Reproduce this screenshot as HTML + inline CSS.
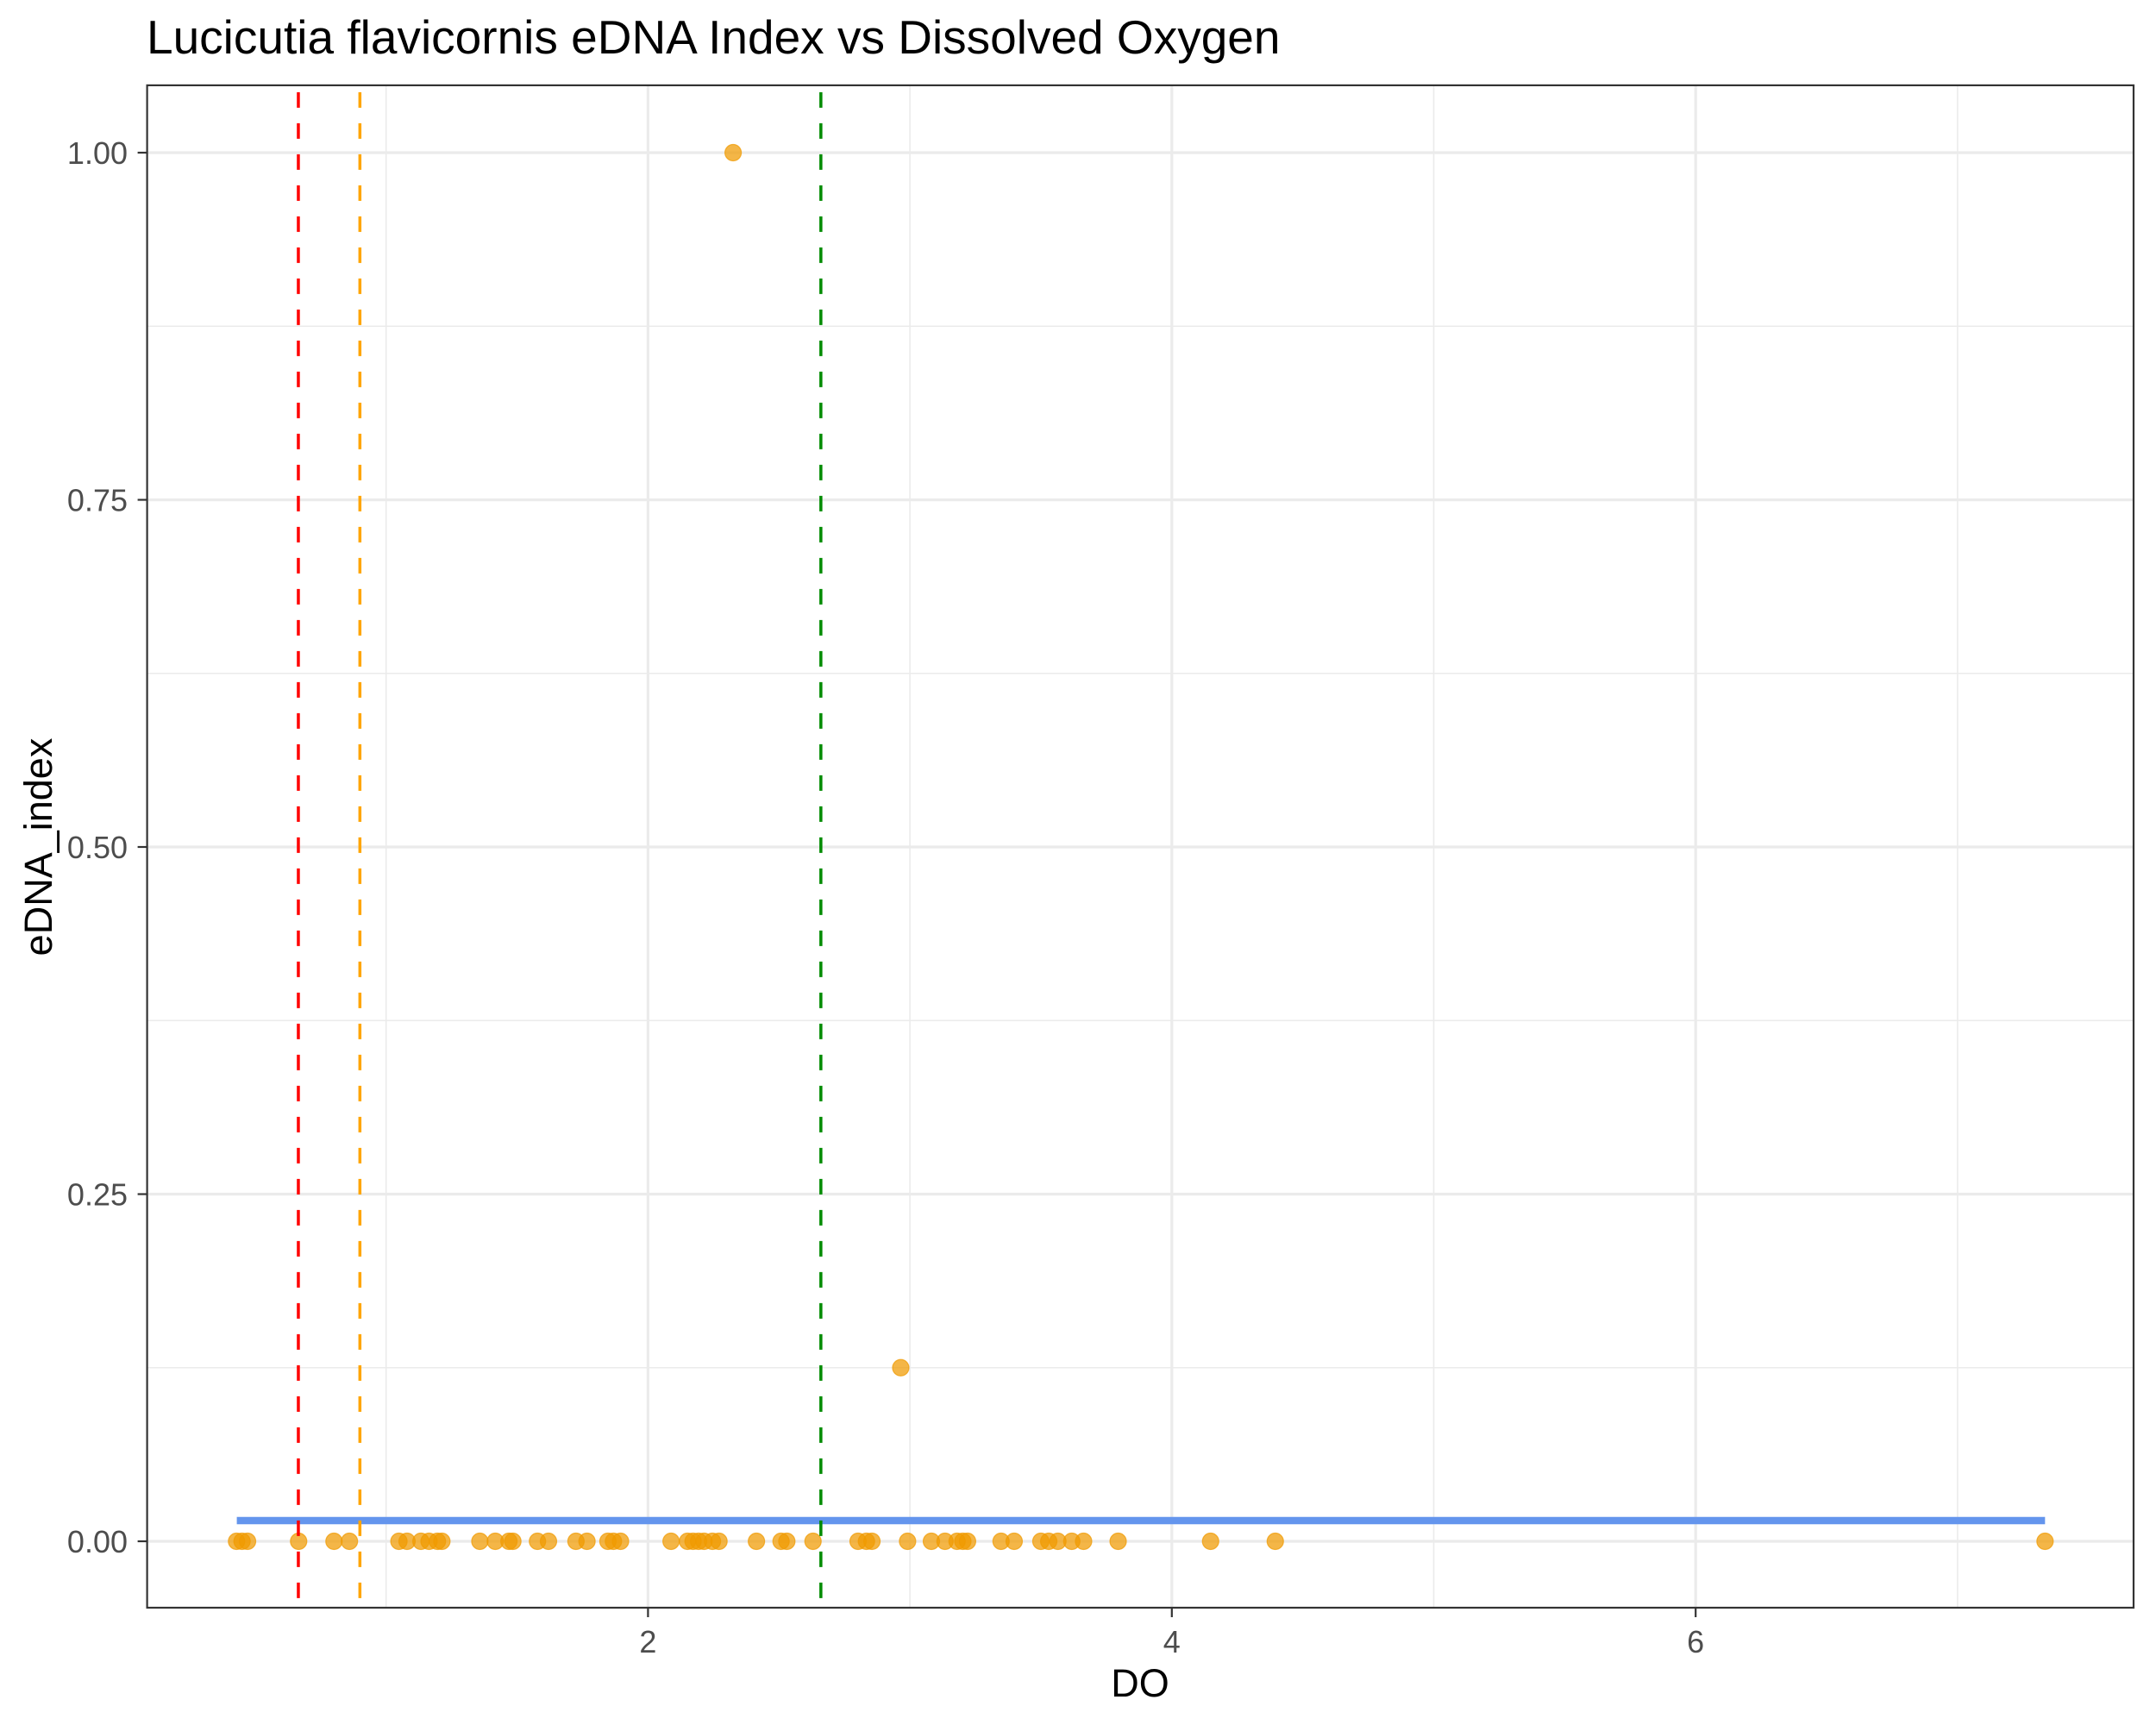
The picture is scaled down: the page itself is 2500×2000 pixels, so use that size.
<!DOCTYPE html>
<html><head><meta charset="utf-8"><style>
html,body{margin:0;padding:0;background:#fff;}
svg{display:block;font-family:"Liberation Sans",Arial,sans-serif;}
</style></head><body>
<svg id="chart" width="2500" height="2000" viewBox="0 0 2500 2000">
<text x="170" y="62" font-size="55" fill="#000">Lucicutia flavicornis eDNA Index vs Dissolved Oxygen</text>
<g id="grid"></g>
<g id="marks"></g>
<rect x="170.6" y="98.9" width="2303.4" height="1765.1" fill="none" stroke="#333" stroke-width="2.2"/>
<g id="axes"></g>
<text x="1322" y="1967" font-size="45" text-anchor="middle" fill="#000">DO</text>
<text transform="translate(60,982) rotate(-90)" font-size="45" text-anchor="middle" fill="#000">eDNA_index</text>
</svg>
<script>
const doValues = [0.429,0.450,0.471,0.666,0.801,0.860,1.049,1.080,1.133,1.164,1.196,1.213,1.358,1.417,1.469,1.484,1.578,1.620,1.725,1.767,1.847,1.868,1.895,2.088,2.151,2.172,2.193,2.214,2.246,2.271,2.414,2.508,2.530,2.630,2.802,2.834,2.855,2.991,3.082,3.134,3.180,3.202,3.22,3.348,3.398,3.50,3.53,3.565,3.618,3.663,3.795,4.148,4.395,7.334,2.325,2.965];
const ednaValues = [0,0,0,0,0,0,0,0,0,0,0,0,0,0,0,0,0,0,0,0,0,0,0,0,0,0,0,0,0,0,0,0,0,0,0,0,0,0,0,0,0,0,0,0,0,0,0,0,0,0,0,0,0,0,1.0,0.125];
const vlineValues = [0.665,0.90,2.66];
const vlineColors = ["#FF0000","#FFA500","#008B00"];
const fitStartEnd = [0.43,7.334];
const fitValue = [0.0149,0.0149];
const xTicks = [2,4,6];
const xMinor = [1,3,5,7];
const yTicks = [0,0.25,0.5,0.75,1.0];
const yTickLabels = ["0.00","0.25","0.50","0.75","1.00"];
const yMinor = [0.125,0.375,0.625,0.875];

const NS="http://www.w3.org/2000/svg";
const L=170.6,R=2474,T=98.9,B=1864;
const xs=v=>144+v*303.7;
const ys=v=>1787-v*1610;
function mk(tag,attrs,parent){const e=document.createElementNS(NS,tag);for(const k in attrs)e.setAttribute(k,attrs[k]);parent.appendChild(e);return e;}
const grid=document.getElementById('grid'),marks=document.getElementById('marks'),axes=document.getElementById('axes');
xMinor.forEach(v=>{const e=mk('line',{x1:xs(v),x2:xs(v),y1:T,y2:B,stroke:'#EBEBEB','stroke-width':1.6},grid);

});
yMinor.forEach(v=>{const e=mk('line',{x1:L,x2:R,y1:ys(v),y2:ys(v),stroke:'#EBEBEB','stroke-width':1.6},grid);

});
xTicks.forEach(v=>{const e=mk('line',{x1:xs(v),x2:xs(v),y1:T,y2:B,stroke:'#EBEBEB','stroke-width':3.2},grid);


const t=mk('line',{x1:xs(v),x2:xs(v),y1:B,y2:B+11,stroke:'#333','stroke-width':2.2},axes);


const l=mk('text',{x:xs(v),y:1916,'font-size':36,'text-anchor':'middle',fill:'#4D4D4D'},axes);l.textContent=v;

});
yTicks.forEach((v,i)=>{const e=mk('line',{x1:L,x2:R,y1:ys(v),y2:ys(v),stroke:'#EBEBEB','stroke-width':3.2},grid);


const t=mk('line',{x1:L-11,x2:L,y1:ys(v),y2:ys(v),stroke:'#333','stroke-width':2.2},axes);


const l=mk('text',{x:148,y:ys(v)+13,'font-size':36,'text-anchor':'end',fill:'#4D4D4D'},axes);l.textContent=yTickLabels[i];

});
doValues.forEach((d,i)=>{const c=mk('circle',{cx:xs(d),cy:ys(ednaValues[i]),r:9.5,fill:'#F09A00','fill-opacity':0.72,stroke:'#F09A00','stroke-opacity':0.72,'stroke-width':1.2},marks);

});
const fit=mk('line',{x1:xs(fitStartEnd[0]),x2:xs(fitStartEnd[1]),y1:ys(fitValue[0]),y2:ys(fitValue[1]),stroke:'#6495ED','stroke-width':8.5},marks);


vlineValues.forEach((v,i)=>{const e=mk('line',{x1:xs(v),x2:xs(v),y1:T,y2:B,stroke:vlineColors[i],'stroke-width':3.5,'stroke-dasharray':'18 18','stroke-dashoffset':-8},marks);

});
</script>
</body></html>
